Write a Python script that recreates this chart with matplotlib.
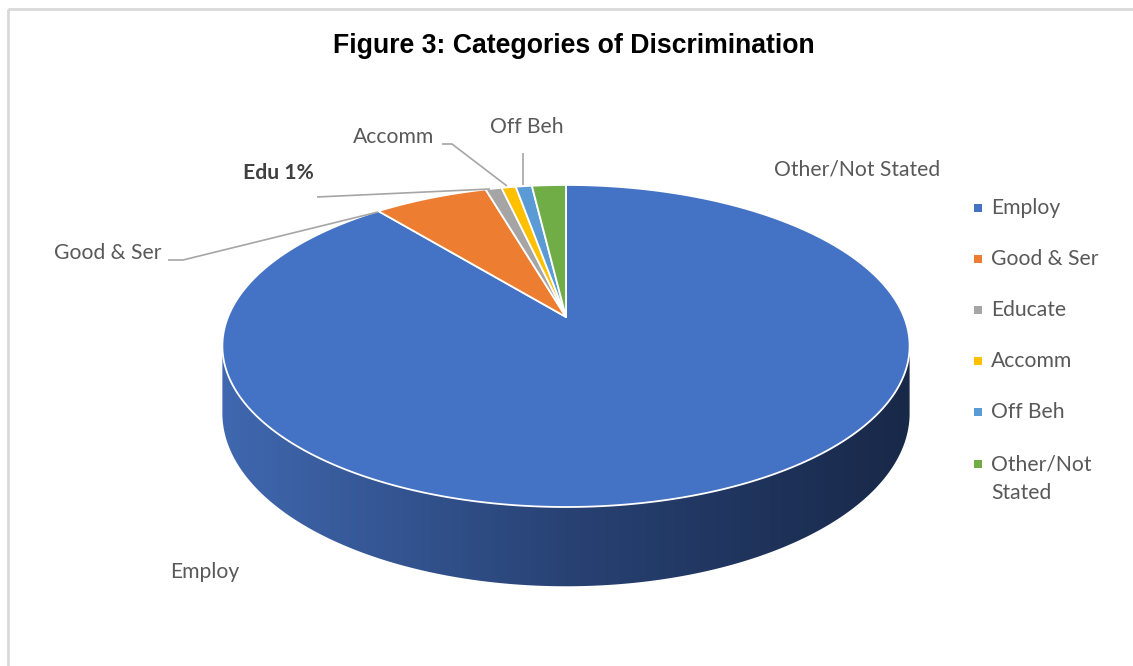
import numpy as np
import matplotlib
matplotlib.use("Agg")
import matplotlib.pyplot as plt
from matplotlib.patches import Polygon, Rectangle

# ---------------- data ----------------
categories = ["Employ", "Good & Ser", "Educate", "Accomm", "Off Beh", "Other/Not Stated"]
shares = [89.1, 6.4, 0.9, 0.8, 0.9, 1.9]
slice_colors = ["#4472C4", "#ED7D31", "#A5A5A5", "#FFC000", "#5B9BD5", "#70AD47"]
legend_labels = ["Employ", "Good & Ser", "Educate", "Accomm", "Off Beh", "Other/Not\nStated"]
data_labels = ["Employ", "Good & Ser", "Edu 1%", "Accomm", "Off Beh", "Other/Not Stated"]
title = "Figure 3: Categories of Discrimination"

# ---------------- figure ----------------
W, H = 1133, 666
fig = plt.figure(figsize=(W / 100, H / 100), dpi=100)
ax = fig.add_axes([0, 0, 1, 1])
ax.set_xlim(0, W)
ax.set_ylim(H, 0)
ax.axis("off")

LABEL_FONT = "Lato"
FS = 15.2
TXT = "#595959"

# perspective pie geometry (pixel space)
CX, CY = 566, 317
A, S, K = 338, 155.8, 0.18
DEPTH = 65


def proj(phi, depth=0.0):
    X = np.cos(phi)
    Y = np.sin(phi)
    w = 1 + K * Y
    return CX + A * X / w, CY - S * Y / w + depth / w


# ---- side (front wall) with horizontal gradient ----
phiL = np.pi + np.arcsin(K)
phiR = 2 * np.pi - np.arcsin(K)
ph = np.linspace(phiL, phiR, 400)
tx, ty = proj(ph)
bx, by = proj(ph[::-1], DEPTH)
side_xy = np.column_stack([np.concatenate([tx, bx]), np.concatenate([ty, by])])
side = Polygon(side_xy, closed=True, facecolor="none", edgecolor="none")
ax.add_patch(side)

x0, x1 = side_xy[:, 0].min() - 2, side_xy[:, 0].max() + 2
y0, y1 = side_xy[:, 1].min() - 2, side_xy[:, 1].max() + 2
xs = np.linspace(x0, x1, 600)
stops_x = [x0, CX, x1]
stops_c = np.array([[64, 104, 176], [40, 66, 116], [24, 40, 72]]) / 255.0
grad = np.stack([np.interp(xs, stops_x, stops_c[:, c]) for c in range(3)], axis=-1)[None, :, :]
im = ax.imshow(grad, extent=[x0, x1, y1, y0], aspect="auto", interpolation="bilinear", zorder=1)
im.set_clip_path(side)

# ---- top face slices (start at 12 o'clock, clockwise) ----
total = sum(shares)
theta = np.pi / 2
for val, col in zip(shares, slice_colors):
    span = 2 * np.pi * val / total
    arc = np.linspace(theta, theta - span, max(int(400 * val / total), 8))
    ax_, ay_ = proj(arc)
    pts = np.column_stack([np.concatenate([[CX], ax_]), np.concatenate([[CY], ay_])])
    ax.add_patch(Polygon(pts, closed=True, facecolor=col, edgecolor="white",
                         linewidth=1.3, joinstyle="round", zorder=2))
    theta -= span

# ---- leader lines ----
LC = "#A6A6A6"
leaders = [
    [(168, 260), (183, 260), (378, 212)],
    [(317, 197), (490, 189)],
    [(442, 144), (452, 144), (507, 186)],
    [(523, 153), (523, 185)],
]
for seg in leaders:
    sx, sy = zip(*seg)
    ax.plot(sx, sy, color=LC, lw=1.2, zorder=3, solid_capstyle="butt")

# ---- data labels ----
lab_pos = [(205, 572), (108, 253), (278, 173), (394, 137), (527, 127), (857, 170)]
for i, (lab, (lx, ly)) in enumerate(zip(data_labels, lab_pos)):
    ax.text(lx, ly, lab, ha="center", va="center", fontsize=FS,
            family=LABEL_FONT, color="#404040" if i == 2 else TXT,
            fontweight="bold" if i == 2 else "normal", zorder=4)

# ---- legend ----
for i, (lab, col) in enumerate(zip(legend_labels, slice_colors)):
    ly = 207.5 + 51.2 * i
    ax.scatter([978], [ly], marker="s", s=34, color=col, zorder=4, linewidths=0)
    if "\n" in lab:
        ax.text(991, ly - 9, lab, ha="left", va="top", fontsize=FS,
                family=LABEL_FONT, color=TXT, linespacing=1.52)
    else:
        ax.text(991, ly, lab, ha="left", va="center", fontsize=FS,
                family=LABEL_FONT, color=TXT)

# ---- title ----
ax.text(574, 46, title, ha="center", va="center", fontsize=19.2,
        family="Liberation Sans", fontweight="bold", color="black")

# ---- chart border ----
ax.add_patch(Rectangle((8, 8.5), 1300, 800, fill=False, edgecolor="#D9D9D9", lw=2, zorder=0))

fig.savefig("out.png", dpi=100)
